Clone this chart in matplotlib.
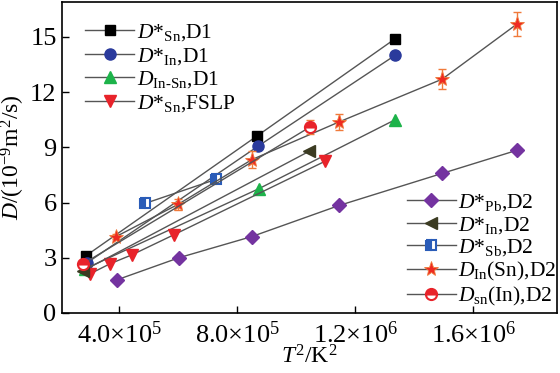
import matplotlib
matplotlib.use("Agg")
import matplotlib.pyplot as plt
from matplotlib.ticker import FixedLocator

plt.rcParams['font.family'] = ['Liberation Serif', 'DejaVu Serif']
plt.rcParams['mathtext.fontset'] = 'custom'
plt.rcParams['mathtext.rm'] = 'Liberation Serif'
plt.rcParams['mathtext.it'] = 'Liberation Serif:italic'
plt.rcParams['mathtext.bf'] = 'Liberation Serif:bold'

# ---- data (T^2 in K^2, D in 1e-9 m^2/s) ----
sn_d1_x = [2.88e5, 8.68e5, 13.36e5]
sn_d1_y = [3.11, 9.62, 14.9]

in_d1_x = [2.92e5, 8.71e5, 13.36e5]
in_d1_y = [2.73, 9.06, 14.0]

insn_d1_x = [2.85e5, 8.75e5, 13.36e5]
insn_d1_y = [2.40, 6.76, 10.5]

sn_fslp_x = [3.02e5, 3.69e5, 4.44e5, 5.86e5, 10.98e5]
sn_fslp_y = [2.13, 2.67, 3.16, 4.25, 8.24]

pb_d2_x = [3.93e5, 6.03e5, 8.50e5, 11.46e5, 14.95e5, 17.49e5]
pb_d2_y = [1.80, 3.00, 4.15, 5.84, 7.58, 8.84]

in_d2_x = [2.78e5, 10.44e5]
in_d2_y = [2.29, 8.78]

sb_d2_x = [4.88e5, 7.29e5]
sb_d2_y = [5.95, 7.26]

insn_d2_x = [3.90e5, 6.00e5, 8.50e5, 11.46e5, 14.95e5, 17.49e5]
insn_d2_y = [4.15, 5.90, 8.33, 10.38, 12.70, 15.70]
insn_d2_err = [0.15, 0.3, 0.45, 0.45, 0.53, 0.64]

snin_d2_x = [2.78e5, 10.47e5]
snin_d2_y = [2.67, 10.10]
snin_d2_err = [0.15, 0.40]

x_ticks = [4.0e5, 8.0e5, 1.2e6, 1.6e6]
x_ticklabels = [r'4.0$\times$10$^5$', r'8.0$\times$10$^5$',
                r'1.2$\times$10$^6$', r'1.6$\times$10$^6$']
y_ticks = [0, 3, 6, 9, 12, 15]

fig = plt.figure(figsize=(5.6, 3.73), dpi=100)
ax = fig.add_axes([0.111, 0.161, 0.884, 0.834])

lc = '#555555'
lw = 1.0
ms = 7

h1 = ax.plot(sn_d1_x, sn_d1_y, '-', color=lc, lw=lw, marker='s', ms=ms,
             mfc='black', mec='black', label=r'$D$*$_{\rm Sn}$,D1')[0]
h2 = ax.plot(in_d1_x, in_d1_y, '-', color=lc, lw=lw, marker='o', ms=ms + 1,
             mfc='#2a3a9c', mec='#2a3a9c', label=r'$D$*$_{\rm In}$,D1')[0]
h3 = ax.plot(insn_d1_x, insn_d1_y, '-', color=lc, lw=lw, marker='^', ms=ms + 1,
             mfc='#1db34a', mec='#1db34a', label=r'$D_{\rm In\text{-}Sn}$,D1')[0]
h4 = ax.plot(sn_fslp_x, sn_fslp_y, '-', color=lc, lw=lw, marker='v', ms=ms + 2,
             mfc='#e8232a', mec='#e8232a', label=r'$D$*$_{\rm Sn}$,FSLP')[0]

h5 = ax.plot(pb_d2_x, pb_d2_y, '-', color=lc, lw=lw, marker='D', ms=ms,
             mfc='#7433a0', mec='#7433a0', label=r'$D$*$_{\rm Pb}$,D2')[0]
h6 = ax.plot(in_d2_x, in_d2_y, '-', color=lc, lw=lw, marker='<', ms=ms + 2,
             mfc='#3b3b22', mec='#3b3b22', label=r'$D$*$_{\rm In}$,D2')[0]
h7 = ax.plot(sb_d2_x, sb_d2_y, '-', color=lc, lw=lw, marker='s', ms=ms,
             fillstyle='left', mfc='#2a5cb8', markerfacecoloralt='white',
             mec='#2a5cb8', mew=1.5, label=r'$D$*$_{\rm Sb}$,D2')[0]
ax.errorbar(insn_d2_x, insn_d2_y, yerr=insn_d2_err, fmt='none',
            ecolor='#f07a3a', elinewidth=1.0, capsize=3, capthick=1.0)
h8 = ax.plot(insn_d2_x, insn_d2_y, '-', color=lc, lw=lw, marker='*', ms=ms + 4,
             mfc='#ee2a22', mec='#f07a3a', mew=0.6, label=r'$D_{\rm In}$(Sn),D2')[0]
ax.errorbar(snin_d2_x, snin_d2_y, yerr=snin_d2_err, fmt='none',
            ecolor='#f07a3a', elinewidth=1.0, capsize=3, capthick=1.0)
h9 = ax.plot(snin_d2_x, snin_d2_y, '-', color=lc, lw=lw, marker='o', ms=ms + 1,
             fillstyle='top', mfc='#e8232a', markerfacecoloralt='white',
             mec='#e8232a', mew=1.5, label=r'$D_{\rm sn}$(In),D2')[0]

ax.set_xlim(2.07e5, 18.85e5)
ax.set_ylim(0, 16.9)
ax.xaxis.set_major_locator(FixedLocator(x_ticks))
ax.set_xticklabels(x_ticklabels)
ax.set_yticks(y_ticks)
ax.tick_params(direction='in', length=5, width=1, labelsize=19, pad=4)
ax.tick_params(axis='x', pad=6)
for s in ax.spines.values():
    s.set_linewidth(1.2)

ax.set_xlabel(r'$T^2$/K$^2$', fontsize=17, labelpad=-2)
ax.set_ylabel(r'$D$/(10$^{-9}$m$^2$/s)', fontsize=17, labelpad=2)

leg1 = ax.legend(handles=[h1, h2, h3, h4], loc='upper left',
                 bbox_to_anchor=(0.02, 0.975), frameon=False, fontsize=15.5,
                 handlelength=2.3, handletextpad=0.1, labelspacing=0.12,
                 borderaxespad=0.2)
ax.add_artist(leg1)
ax.legend(handles=[h5, h6, h7, h8, h9], loc='lower right',
          bbox_to_anchor=(1.025, -0.025), frameon=False, fontsize=15.5,
          handlelength=2.3, handletextpad=0.1, labelspacing=0.08,
          borderaxespad=0.2)

fig.savefig('out.png', dpi=100)
